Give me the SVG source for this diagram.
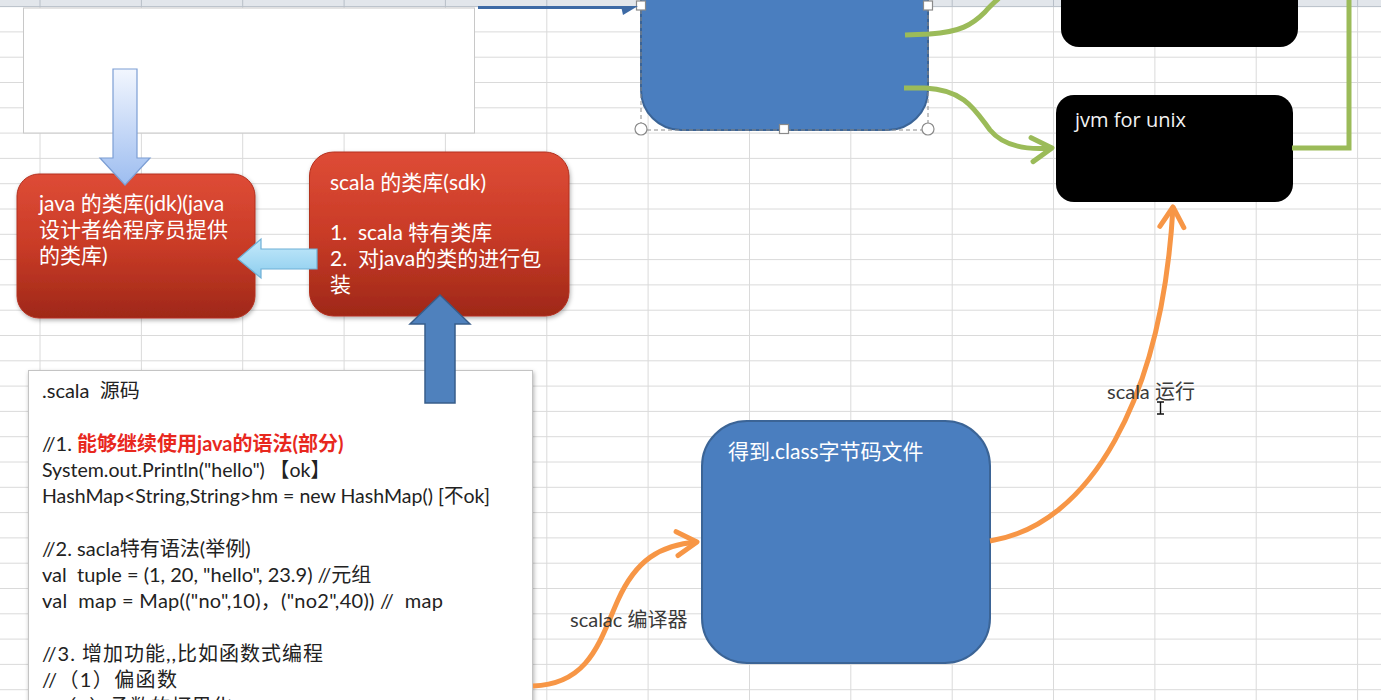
<svg xmlns="http://www.w3.org/2000/svg" width="1381" height="700" viewBox="0 0 1381 700">
<style>
.t{font-family:Lato,"Noto Sans CJK SC",sans-serif;font-size:20px;white-space:pre}
.b{font-size:21px}
.w{fill:#ffffff}
.k{fill:#222222}
.lbl{fill:#3a3a3a}
.red{fill:#e8281e;font-weight:bold}
.grid{stroke:#dadada;stroke-width:1;fill:none}
.green{stroke:#9bbb59;stroke-width:5;fill:none}
.orange{stroke:#f79646;stroke-width:5;fill:none}
.handle{fill:#ffffff;stroke:#8a8a8a;stroke-width:1.2}
</style>
<defs>
<linearGradient id="redg" x1="0" y1="0" x2="0" y2="1">
<stop offset="0" stop-color="#de4c36"/>
<stop offset="0.5" stop-color="#c93b27"/>
<stop offset="1" stop-color="#9f2818"/>
</linearGradient>
<linearGradient id="lbdown" x1="0" y1="0" x2="0" y2="1">
<stop offset="0" stop-color="#f2f6fe"/>
<stop offset="1" stop-color="#9dbdf0"/>
</linearGradient>
<linearGradient id="lbleft" x1="0" y1="0" x2="0" y2="1">
<stop offset="0" stop-color="#c6eafb"/>
<stop offset="1" stop-color="#8ccdee"/>
</linearGradient>
<filter id="sh" x="-10%" y="-10%" width="125%" height="125%">
<feDropShadow dx="1" dy="2" stdDeviation="2" flood-color="#000" flood-opacity="0.3"/>
</filter>
<marker id="og" viewBox="-26 -16 30 32" refX="0" refY="0" markerWidth="30" markerHeight="32" markerUnits="userSpaceOnUse" orient="auto">
<path d="M-20,-12 L0,0 L-20,12" fill="none" stroke="#f79646" stroke-width="5" stroke-linecap="round" stroke-linejoin="round"/>
</marker>
<marker id="gr" viewBox="-26 -16 30 32" refX="0" refY="0" markerWidth="30" markerHeight="32" markerUnits="userSpaceOnUse" orient="auto">
<path d="M-20,-12 L0,0 L-20,12" fill="none" stroke="#9bbb59" stroke-width="5" stroke-linecap="round" stroke-linejoin="round"/>
</marker>
</defs>
<rect width="1381" height="700" fill="#ffffff"/>
<g id="grid">
<path class="grid" d="M40,0V700M141.4,0V700M242.7,0V700M344.1,0V700M445.4,0V700M546.8,0V700M648.1,0V700M749.5,0V700M850.8,0V700M952.2,0V700M1053.5,0V700M1154.9,0V700M1256.2,0V700M1357.6,0V700"/>
<path class="grid" d="M0,31.9H1381M0,57.2H1381M0,82.5H1381M0,107.8H1381M0,133.1H1381M0,158.4H1381M0,183.7H1381M0,209H1381M0,234.3H1381M0,259.6H1381M0,284.9H1381M0,310.2H1381M0,335.5H1381M0,360.8H1381M0,386.1H1381M0,411.4H1381M0,436.7H1381M0,462H1381M0,487.3H1381M0,512.6H1381M0,537.9H1381M0,563.2H1381M0,588.5H1381M0,613.8H1381M0,639.1H1381M0,664.4H1381M0,689.7H1381"/>
<rect x="0" y="0" width="1381" height="6.6" fill="#e2e6eb"/>
<path d="M0,6.6H1381" stroke="#b8bfc8" stroke-width="1"/>
<path d="M40,0V6.6M141.4,0V6.6M242.7,0V6.6M344.1,0V6.6M445.4,0V6.6M546.8,0V6.6M648.1,0V6.6M749.5,0V6.6M850.8,0V6.6M952.2,0V6.6M1053.5,0V6.6M1154.9,0V6.6M1256.2,0V6.6M1357.6,0V6.6" stroke="#b8bfc8" stroke-width="1"/>
</g>
<g id="top-white-box">
<rect x="23.5" y="8" width="451" height="125" fill="#ffffff" stroke="#c8c8c8" stroke-width="1"/>
</g>
<g id="scala-source">
<rect x="28.5" y="370.5" width="504" height="340" fill="#ffffff" stroke="#c4c4c4" stroke-width="1" filter="url(#sh)"/>
<text class="t k" x="42" y="398">.scala  源码</text>
<text class="t k" x="42" y="450.6">//1. <tspan class="red">能够继续使用java的语法(部分)</tspan></text>
<text class="t k" x="42" y="476.9" textLength="288" lengthAdjust="spacingAndGlyphs">System.out.Println("hello") 【ok】</text>
<text class="t k" x="42" y="503.2" textLength="448" lengthAdjust="spacingAndGlyphs">HashMap&lt;String,String&gt;hm = new HashMap() [不ok]</text>
<text class="t k" x="42" y="555.8">//2. sacla特有语法(举例)</text>
<text class="t k" x="42" y="582.1">val  tuple = (1, 20, "hello", 23.9) //元组</text>
<text class="t k" x="42" y="608.4" textLength="401" lengthAdjust="spacing">val  map = Map(("no",10)，("no2",40)) //  map</text>
<text class="t k" x="42" y="661" textLength="281" lengthAdjust="spacing">//3. 增加功能,,比如函数式编程</text>
<text class="t k" x="42" y="687.3" textLength="135" lengthAdjust="spacing">//（1）偏函数</text>
<text class="t k" x="42" y="713.6" textLength="190" lengthAdjust="spacing">//（2）函数的柯里化</text>
</g>
<g id="java-lib">
<rect x="17" y="174" width="238" height="144" rx="22" fill="url(#redg)" stroke="#b3301f" stroke-width="1" filter="url(#sh)"/>
<text class="t b w" x="39" y="211">java 的类库(jdk)(java</text>
<text class="t b w" x="39" y="237">设计者给程序员提供</text>
<text class="t b w" x="39" y="263">的类库)</text>
</g>
<g id="scala-lib">
<rect x="309.5" y="152" width="259.5" height="164" rx="24" fill="url(#redg)" stroke="#b3301f" stroke-width="1" filter="url(#sh)"/>
<text class="t b w" x="330" y="190">scala 的类库(sdk)</text>
<text class="t b w" x="330" y="240">1.  scala 特有类库</text>
<text class="t b w" x="330" y="266">2.  对java的类的进行包</text>
<text class="t b w" x="330" y="292">装</text>
</g>
<g id="jvm-top">
<path d="M641,-20 H928 V90 A40,40 0 0 1 888,130 H681 A40,40 0 0 1 641,90 Z" fill="#4a7ebf" stroke="#3b6496" stroke-width="2"/>
<rect x="641" y="-20" width="287" height="150" fill="none" stroke="#8a8a8a" stroke-width="1" stroke-dasharray="4 3"/>
<rect class="handle" x="636.5" y="1" width="9" height="9"/>
<rect class="handle" x="923.5" y="1" width="9" height="9"/>
<rect class="handle" x="779.5" y="124.5" width="9" height="9"/>
<circle class="handle" cx="641" cy="129" r="6"/>
<circle class="handle" cx="928" cy="129" r="6"/>
</g>
<g id="jvm-windows">
<path d="M1061,-10 H1298 V29 A18,18 0 0 1 1280,47 H1079 A18,18 0 0 1 1061,29 Z" fill="#000000"/>
</g>
<g id="jvm-unix">
<rect x="1056" y="95" width="237" height="107" rx="18" fill="#000000"/>
<text x="1075" y="127" style="font-family:'Open Sans',sans-serif;font-size:20px;fill:#f2f2f2">jvm for unix</text>
</g>
<g id="class-file">
<rect x="702" y="421" width="288" height="242" rx="45" fill="#4a7ebf" stroke="#3b6496" stroke-width="2"/>
<text class="t b w" x="728" y="459">得到.class字节码文件</text>
</g>
<g id="connectors">
<polygon points="113,69 137,69 137,158 150,158 125,185 100,158 113,158" fill="url(#lbdown)" stroke="#7c9ed4" stroke-width="1.2"/>
<polygon points="317,249 261,249 261,239 238,259 261,278 261,269 317,269" fill="url(#lbleft)" stroke="#6fb0d6" stroke-width="1.2"/>
<polygon points="425,403 425,324 410,324 440,295 470,324 455,324 455,403" fill="#4f81bd" stroke="#385d8a" stroke-width="1.5"/>
<path d="M478,7.5 H626" stroke="#3d6aa5" stroke-width="3" fill="none"/>
<polygon points="621,6 638,6 623,15" fill="#3d6aa5"/>
<path class="green" d="M905,35 L930,34 C960,32 972,25 985,12 C990,6 995,2 1000,-3"/>
<path class="green" d="M904,88 L925,88 C965,90 975,110 990,130 C1004,147 1028,150 1052,148" marker-end="url(#gr)"/>
<path class="green" d="M1292,148 H1349 V-2"/>
<path class="orange" d="M533,686 C590,684 600,640 618,600 C636,560 660,545 697,542" marker-end="url(#og)"/>
<path class="orange" d="M990,541 C1090,525 1162,400 1173,207" marker-end="url(#og)"/>
</g>
<g id="labels">
<text class="t lbl" x="570" y="627">scalac 编译器</text>
<text class="t lbl" x="1107" y="399">scala 运行</text>
<path d="M1157,402 H1164 M1160.5,402 V414 M1157,414 H1164" stroke="#111" stroke-width="1.4" fill="none"/>
</g>
</svg>
